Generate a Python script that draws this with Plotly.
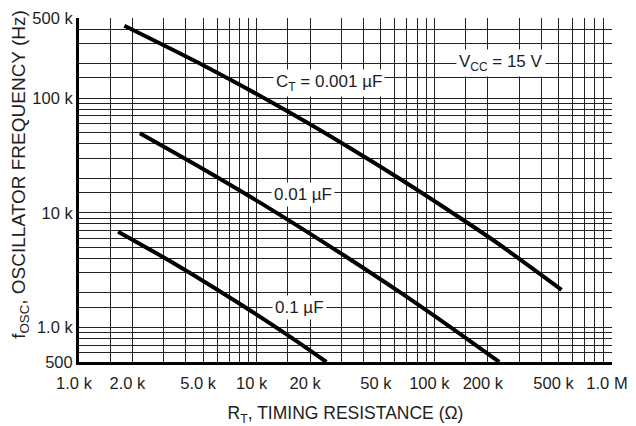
import numpy as np
import plotly.graph_objects as go

# ---- data (R in ohms, f in Hz) ----
r_001 = [1800, 5120, 12700, 31400, 65500, 144000, 219000, 520000]
f_001 = [428000, 190000, 88400, 39100, 19350, 8750, 5650, 2130]

r_01 = [2200, 5340, 12700, 31400, 65500, 122000, 232000]
f_01 = [49400, 22700, 10200, 4200, 1980, 1017, 500]

r_1 = [1660, 3470, 8230, 15100, 24700]
f_1 = [6850, 3580, 1570, 848, 500]

x_tick_vals = [1e3, 2e3, 5e3, 1e4, 2e4, 5e4, 1e5, 2e5, 5e5, 1e6]
x_tick_text = ["1.0 k", "2.0 k", "5.0 k", "10 k", "20 k", "50 k", "100 k", "200 k", "500 k", "1.0 M"]
y_tick_vals = [500, 1e3, 1e4, 1e5, 5e5]
y_tick_text = ["500", "1.0 k", "10 k", "100 k", "500 k"]

mantissas = [1, 1.5, 2, 3, 4, 5, 6, 7, 8, 9]
x_grid = [m * 10 ** d for d in (3, 4, 5) for m in mantissas] + [1e6]
y_grid = [m * 10 ** d for d in (2, 3, 4, 5) for m in mantissas]
y_grid = [v for v in y_grid if 500 <= v <= 5e5]

FONT = "Liberation Sans, Arial, Helvetica, sans-serif"
TXT = "#1e1e1e"

fig = go.Figure()
for rx, fy in ((r_001, f_001), (r_01, f_01), (r_1, f_1)):
    fig.add_trace(go.Scatter(x=rx, y=fy, mode="lines",
                             line=dict(color="black", width=4, shape="spline", smoothing=0.8),
                             showlegend=False, hoverinfo="skip"))

grid_color = "#222222"
fig.update_xaxes(type="log", range=[3, 6], automargin=False,
                 tickvals=x_tick_vals, ticktext=x_tick_text,
                 tickfont=dict(family=FONT, size=16.5, color=TXT),
                 showgrid=True, gridcolor=grid_color, gridwidth=1,
                 minor=dict(tickvals=x_grid, showgrid=True, gridcolor=grid_color, gridwidth=1, ticks=""),
                 showline=True, linecolor="black", linewidth=3, ticks="", zeroline=False,
                 ticklabelshift=-5, ticklabelstandoff=4,
                 title=dict(text="R<sub>T</sub>, TIMING RESISTANCE (Ω)",
                            font=dict(family=FONT, size=17.5, color=TXT), standoff=21))
fig.update_yaxes(type="log", range=[np.log10(500), np.log10(5e5)], automargin=False,
                 tickvals=y_tick_vals, ticktext=y_tick_text,
                 tickfont=dict(family=FONT, size=16.5, color=TXT),
                 showgrid=True, gridcolor=grid_color, gridwidth=1,
                 minor=dict(tickvals=y_grid, showgrid=True, gridcolor=grid_color, gridwidth=1, ticks=""),
                 showline=True, linecolor="black", linewidth=3, ticks="", zeroline=False)

ann_font = dict(family=FONT, size=17, color=TXT)
labels = [
    ("C<sub>T</sub> = 0.001 µF", 4.407, 5.13),
    ("0.01 µF", 4.263, 4.156),
    ("0.1 µF", 4.241, 3.173),
    ("V<sub>CC</sub> = 15 V", 5.375, 5.31),
]
for txt, lx, ly in labels:
    fig.add_annotation(x=lx, y=ly, xref="x", yref="y", text=txt, showarrow=False,
                       xanchor="center", yanchor="middle",
                       font=ann_font, bgcolor="white", borderpad=2)

fig.add_annotation(x=-0.112, y=0.545, xref="paper", yref="paper",
                   xanchor="center", yanchor="middle",
                   text="f<sub>OSC</sub>, OSCILLATOR FREQUENCY (Hz)", textangle=-90,
                   showarrow=False, font=dict(family=FONT, size=19, color=TXT))

fig.update_layout(width=636, height=426, margin=dict(l=79, r=24, t=18, b=64, autoexpand=False),
                  plot_bgcolor="white", paper_bgcolor="white")

fig.write_html("out.html", config={"displayModeBar": False},
               post_script="document.body.style.margin='0';document.body.style.overflow='hidden';")
